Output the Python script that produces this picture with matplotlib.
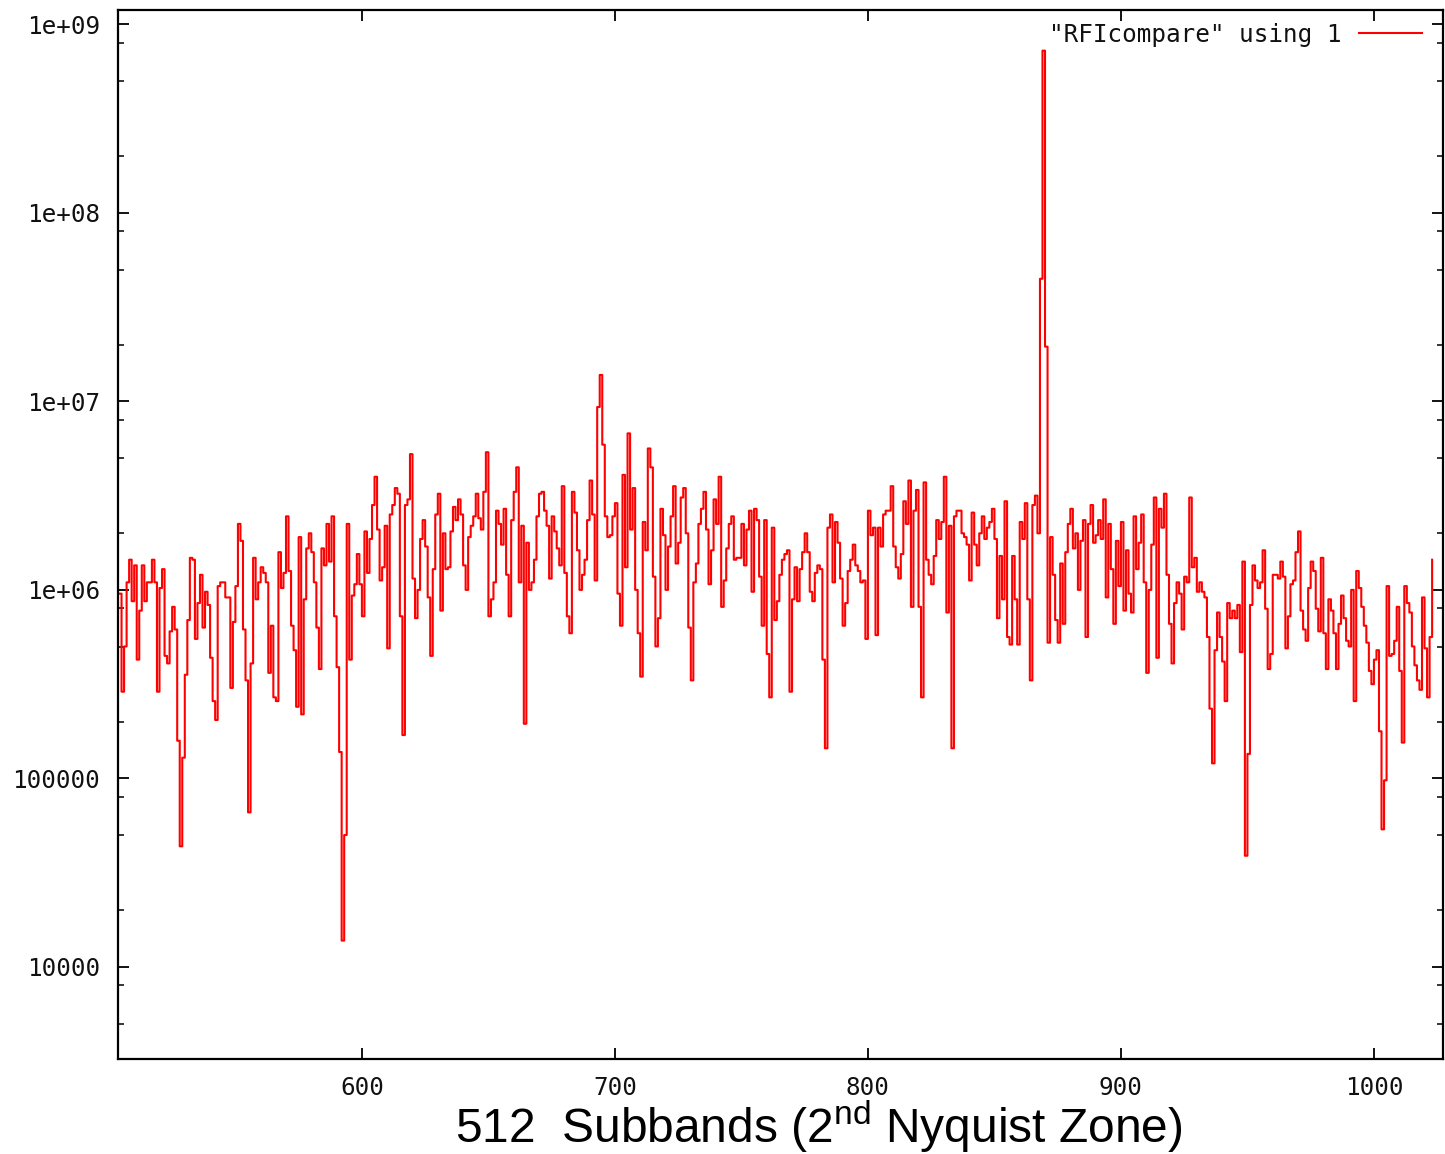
import numpy as np
import matplotlib
matplotlib.use('Agg')
import matplotlib.pyplot as plt
from matplotlib.ticker import FixedLocator, FixedFormatter, LogLocator, NullFormatter

# ---- data: per-subband level in dB (10*log10 of power) ----
first_subband = 504
seg1 = [59.8, 54.6, 57.0, 60.4, 61.6, 59.4, 61.3, 56.3, 58.9, 61.3, 59.4, 60.4, 60.4, 61.6, 60.4, 54.6,
        60.1, 61.1, 56.5, 56.1, 57.8, 59.1, 57.9, 52.0, 46.4, 51.1, 55.5, 58.4, 61.7, 61.6, 57.4, 59.3,
        60.8, 58.0, 59.9, 59.2, 56.4, 54.1, 53.1, 60.2, 60.4, 60.4, 59.6, 59.6, 54.8, 58.3, 60.2, 63.5]
seg2 = [62.6, 57.9, 55.2, 48.2, 56.1, 61.7, 59.5, 60.4, 61.2, 60.9, 60.4, 55.6, 58.1, 54.3, 54.1, 62.0,
        60.1, 60.9, 63.9, 61.0, 58.1, 56.8, 53.8, 62.8, 53.4, 59.5, 62.2, 63.0, 62.0, 60.4, 58.0, 55.8,
        62.2, 61.3, 63.5, 61.5, 63.9, 58.6, 55.9, 51.4, 41.4, 47.0, 63.5, 56.3, 59.7, 60.3, 61.9]
seg3 = [60.3, 58.6, 63.1, 60.9, 62.7, 64.5, 66.0, 63.2, 60.5, 61.2, 63.4, 56.9, 64.0, 64.5, 65.4, 65.1,
        58.6, 52.3, 64.5, 64.8, 67.2, 60.6, 58.5, 60.0, 62.7, 63.7, 62.3, 59.6, 56.5, 61.1, 64.0, 65.1,
        58.9, 63.0, 61.1, 61.2, 63.1, 64.4, 63.7, 64.8, 64.0, 61.3, 60.0, 62.8, 63.4, 63.9, 65.1, 63.8]
seg4 = [63.2, 65.2, 67.3, 58.6, 59.5, 60.4, 64.2, 63.5, 62.4, 64.3, 60.8, 58.6, 63.7, 65.2, 66.5, 60.4,
        63.4, 52.9, 62.5, 60.0, 60.4, 61.6, 63.9, 65.1, 65.2, 64.2, 63.4, 60.6, 63.9, 63.1, 62.2, 61.3,
        65.5, 60.9, 58.6, 57.7, 65.2, 64.1, 62.1, 60.0, 60.8, 61.6, 63.7, 65.8, 64.0, 60.5, 69.7]
seg5 = [71.4, 67.7, 63.9, 62.8, 62.9, 63.9, 64.6, 59.8, 58.1, 66.1, 61.2, 68.3, 63.2, 65.4, 60.0, 57.7,
        55.4, 63.6, 62.1, 67.5, 66.5, 60.7, 57.0, 58.5, 64.3, 62.9, 60.0, 62.3, 63.9, 65.5, 61.4, 62.5,
        64.9, 65.4, 63.0, 58.0, 55.2, 60.4, 61.4, 63.5, 64.3, 65.2, 63.2, 60.3, 62.1, 64.8, 63.5, 66.0]
seg6 = [59.1, 60.5, 62.2, 63.5, 63.9, 61.6, 61.7, 61.7, 63.5, 61.3, 63.2, 64.2, 59.9, 64.3, 63.7, 60.7,
        58.1, 63.7, 56.6, 54.3, 63.3, 58.4, 59.4, 60.8, 61.6, 61.9, 62.1, 54.6, 59.5, 61.2, 59.4, 61.1,
        62.0, 63.0, 62.0, 59.9, 59.4, 60.9, 61.3, 61.1, 56.3, 51.6, 63.3, 64.0, 60.4, 63.6, 62.5]
seg7 = [60.6, 58.1, 59.3, 61.0, 61.6, 62.4, 61.3, 61.0, 60.4, 60.5, 57.4, 64.2, 62.9, 63.3, 57.6, 63.3,
        62.3, 64.0, 64.2, 64.2, 65.5, 62.3, 61.2, 60.6, 61.9, 64.7, 63.5, 65.8, 59.1, 64.2, 65.3, 59.1,
        54.3, 65.7, 61.6, 60.8, 60.3, 61.8, 63.7, 62.7, 63.6, 66.0, 58.8, 63.4, 51.6, 63.9, 64.2]
seg8 = [64.2, 63.0, 62.8, 62.4, 60.5, 64.1, 62.4, 61.3, 63.0, 63.9, 62.7, 63.3, 63.6, 64.3, 62.7, 58.5,
        61.8, 59.5, 64.7, 57.5, 57.1, 61.8, 59.5, 57.1, 63.6, 62.7, 64.6, 59.5, 55.2, 64.5, 65.0, 63.0,
        76.5, 88.6, 72.9, 57.2, 62.8, 60.8, 58.4, 57.2, 61.4, 58.2, 62.0, 63.5, 64.3, 62.2, 63.0, 60.0, 62.6]
seg9 = [63.7, 57.5, 63.5, 64.5, 62.5, 62.9, 63.7, 62.7, 64.8, 59.6, 63.5, 61.1, 58.2, 62.6, 60.2, 63.6,
        58.9, 62.1, 59.8, 58.8, 63.9, 61.1, 62.5, 64.0, 60.4, 55.6, 60.0, 62.4, 64.9, 56.4, 64.3, 63.3,
        65.1, 60.8, 58.2, 56.1, 59.3, 60.4, 59.8, 57.9, 60.7, 60.4, 64.9, 61.2, 61.7, 59.9, 60.4]
seg10 = [59.9, 59.6, 57.5, 53.7, 50.8, 56.8, 58.8, 57.5, 56.2, 54.1, 59.3, 58.5, 58.9, 58.5, 59.2, 56.7,
         61.5, 45.9, 51.3, 59.2, 61.3, 60.5, 60.1, 60.4, 62.1, 59.0, 55.8, 56.6, 60.8, 60.8, 60.6, 61.5,
         60.7, 56.9, 58.6, 60.3, 60.5, 62.0, 63.1, 58.9, 57.9, 57.3, 60.1, 61.5, 61.0, 59.0, 57.8]
seg11 = [61.7, 57.7, 55.8, 59.5, 58.9, 57.7, 55.8, 58.2, 59.7, 58.5, 57.3, 57.0, 60.0, 54.1, 61.0, 60.1,
         59.1, 58.1, 57.2, 55.7, 55.0, 56.3, 56.8, 52.5, 47.3, 49.9, 60.2, 56.5, 56.6, 57.3, 59.1, 55.7,
         51.9, 60.2, 59.3, 58.8, 57.0, 56.0, 55.2, 54.7, 59.6, 56.9, 54.3, 57.5, 61.6]

x_ticks = [600, 700, 800, 900, 1000]
x_tick_labels = ['600', '700', '800', '900', '1000']
y_ticks = [1e4, 1e5, 1e6, 1e7, 1e8, 1e9]
y_tick_labels = ['10000', '100000', '1e+06', '1e+07', '1e+08', '1e+09']
legend_label = '"RFIcompare" using 1'
x_label = '512  Subbands (2$^{\\mathregular{nd}}$ Nyquist Zone)'

level_db = np.concatenate([seg1, seg2, seg3, seg4, seg5, seg6, seg7, seg8, seg9, seg10, seg11])
power = 10.0 ** (level_db / 10.0)
subband = first_subband + np.arange(len(power))

W, H = 1445, 1154
fig = plt.figure(figsize=(W / 100, H / 100), dpi=100)
ax = fig.add_axes([118 / W, 1 - 1059 / H, (1443 - 118) / W, (1059 - 10) / H])

ax.plot(subband, power, drawstyle='steps-post', color='#ff0000', lw=1.5, label=legend_label)

ax.set_yscale('log')
ax.set_xlim(503.6, 1027.3)
ax.set_ylim(3250, 1.19e9)

ax.yaxis.set_major_locator(FixedLocator(y_ticks))
ax.yaxis.set_major_formatter(FixedFormatter(y_tick_labels))
ax.yaxis.set_minor_locator(LogLocator(base=10, subs=(2.0, 5.0, 8.0)))
ax.yaxis.set_minor_formatter(NullFormatter())
ax.xaxis.set_major_locator(FixedLocator(x_ticks))
ax.xaxis.set_major_formatter(FixedFormatter(x_tick_labels))

mono = 'DejaVu Sans Mono'
ax.tick_params(which='both', direction='in', top=True, right=True, color='black')
ax.tick_params(which='major', length=8, width=1.3)
ax.tick_params(which='minor', length=4.5, width=1.1)
ax.tick_params(axis='y', which='major', pad=13)
ax.tick_params(axis='x', which='major', pad=12)
for lab in ax.get_xticklabels() + ax.get_yticklabels():
    lab.set_fontfamily(mono)
    lab.set_fontsize(17.5)
    lab.set_color('#111111')

for sp in ax.spines.values():
    sp.set_linewidth(1.6)
    sp.set_color('black')

leg = ax.legend(loc='center right', bbox_to_anchor=(1422 / W, 1 - 35 / H),
                bbox_transform=fig.transFigure, markerfirst=False, frameon=False,
                prop={'family': mono, 'size': 17.5}, handlelength=2.6, handletextpad=0.7,
                borderpad=0, borderaxespad=0)
for t in leg.get_texts():
    t.set_color('#111111')

fig.text(819 / W, 11 / H, x_label, ha='center', va='baseline',
         fontsize=34.5, family='Liberation Sans', color='black')

fig.savefig('out.png', dpi=100)
